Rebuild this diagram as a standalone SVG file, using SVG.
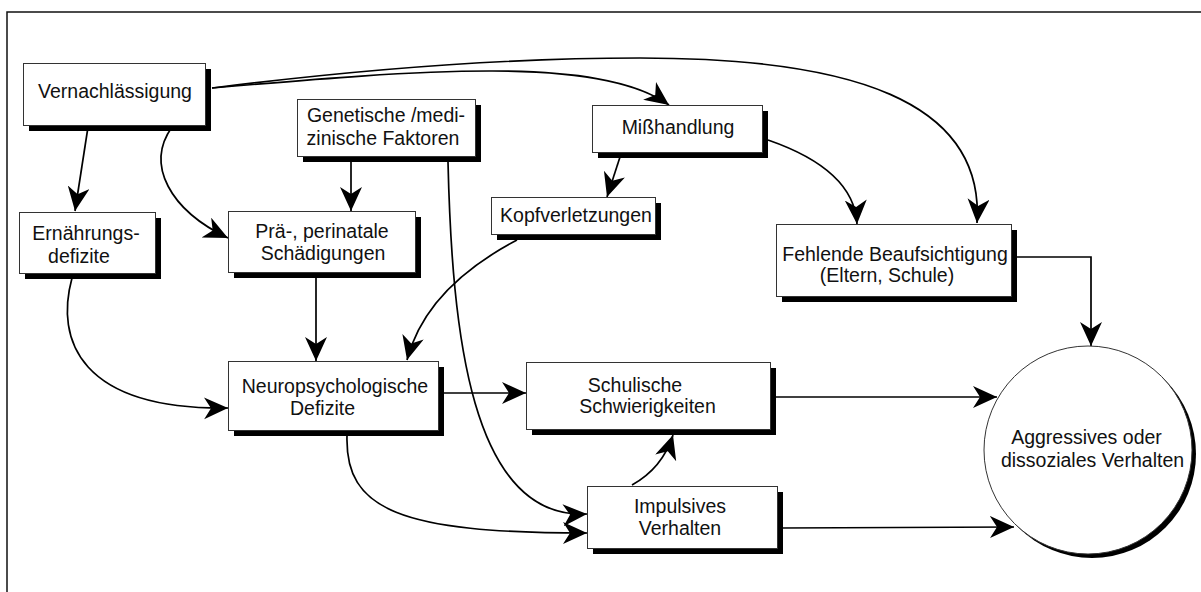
<svg xmlns="http://www.w3.org/2000/svg" width="1201" height="592" viewBox="0 0 1201 592">
<defs>
<style>
.box{fill:#fff;stroke:#333;stroke-width:1}
.sh{fill:#000}
.t{font-family:"Liberation Sans",Arial,sans-serif;font-size:19.5px;fill:#111;text-anchor:middle}
.c{fill:none;stroke:#000;stroke-width:1.7;marker-end:url(#ah)}
</style>
<marker id="ah" markerUnits="userSpaceOnUse" markerWidth="26" markerHeight="24" viewBox="0 0 26 24" refX="24" refY="11" orient="auto">
<path d="M24,11 L0,0 L7,11 L0,22 Z" fill="#000"/>
</marker>
</defs>
<rect width="1201" height="592" fill="#fff"/>
<path d="M7,592 V12 H1201" fill="none" stroke="#111" stroke-width="1.5"/>

<g id="connectors">
<path class="c" d="M212,88 Q450,58 640,58 C850,58 985,100 977,223"/>
<path class="c" d="M212,88 C420,70 600,55 669,105"/>
<path class="c" d="M88,127 L75,211"/>
<path class="c" d="M172,127 C145,165 170,210 228,238"/>
<path class="c" d="M351,162 L351,211"/>
<path class="c" d="M448,162 C452,330 470,520 587,514"/>
<path class="c" d="M620,157 L607,197"/>
<path class="c" d="M768,140 C820,158 855,185 857,224"/>
<path class="c" d="M72,278 C55,340 80,410 228,408"/>
<path class="c" d="M316,277 L316,361"/>
<path class="c" d="M517,240 C460,270 420,310 407,360"/>
<path class="c" d="M443,393 L526,393"/>
<path class="c" d="M347,436 C345,510 400,533 587,533"/>
<path class="c" d="M632,485 C650,475 665,460 673,435"/>
<path class="c" d="M776,397 L997,397"/>
<path class="c" d="M782,528 L1014,527"/>
<path class="c" d="M1016,257 H1091 V346"/>
</g>

<g id="vernachlaessigung">
<rect class="sh" x="29" y="69" width="182" height="62"/>
<rect class="box" x="23.5" y="63.5" width="182" height="62"/>
<text class="t" x="115" y="98">Vernachlässigung</text>
</g>
<g id="ernaehrungsdefizite">
<rect class="sh" x="25" y="218" width="136" height="61"/>
<rect class="box" x="19.5" y="212.5" width="136" height="61"/>
<text class="t" x="86" y="240">Ernährungs-</text>
<text class="t" x="79" y="263">defizite</text>
</g>
<g id="praeperinatale">
<rect class="sh" x="234" y="217" width="187" height="61"/>
<rect class="box" x="228.5" y="211.5" width="187" height="61"/>
<text class="t" x="322" y="238">Prä-, perinatale</text>
<text class="t" x="323" y="260">Schädigungen</text>
</g>
<g id="genetische">
<rect class="sh" x="303" y="105" width="178" height="57"/>
<rect class="box" x="297.5" y="99.5" width="178" height="57"/>
<text class="t" x="386" y="122">Genetische /medi-</text>
<text class="t" x="383" y="145">zinische Faktoren</text>
</g>
<g id="misshandlung">
<rect class="sh" x="598" y="111" width="170" height="47"/>
<rect class="box" x="592.5" y="105.5" width="170" height="47"/>
<text class="t" x="678" y="134">Mißhandlung</text>
</g>
<g id="kopfverletzungen">
<rect class="sh" x="497" y="203" width="164" height="37"/>
<rect class="box" x="491.5" y="197.5" width="164" height="37"/>
<text class="t" x="576" y="222">Kopfverletzungen</text>
</g>
<g id="fehlende">
<rect class="sh" x="782" y="230" width="235" height="72"/>
<rect class="box" x="776.5" y="224.5" width="235" height="72"/>
<text class="t" x="895" y="261">Fehlende Beaufsichtigung</text>
<text class="t" x="887" y="282">(Eltern, Schule)</text>
</g>
<g id="neuro">
<rect class="sh" x="234" y="367" width="210" height="69"/>
<rect class="box" x="228.5" y="361.5" width="210" height="69"/>
<text class="t" x="335" y="393">Neuropsychologische</text>
<text class="t" x="322.5" y="415">Defizite</text>
</g>
<g id="schulische">
<rect class="sh" x="532" y="368" width="244" height="67"/>
<rect class="box" x="526.5" y="362.5" width="244" height="67"/>
<text class="t" x="635" y="392">Schulische</text>
<text class="t" x="647.5" y="413">Schwierigkeiten</text>
</g>
<g id="impulsives">
<rect class="sh" x="593" y="492" width="190" height="62"/>
<rect class="box" x="587.5" y="486.5" width="190" height="62"/>
<text class="t" x="680" y="513">Impulsives</text>
<text class="t" x="680" y="535">Verhalten</text>
</g>
<g id="aggressives">
<circle cx="1092" cy="454" r="104" fill="#000"/>
<circle cx="1088" cy="450" r="104" fill="#fff" stroke="#333" stroke-width="1"/>
<text class="t" x="1086.5" y="444">Aggressives oder</text>
<text class="t" x="1092.5" y="467">dissoziales Verhalten</text>
</g>
</svg>
